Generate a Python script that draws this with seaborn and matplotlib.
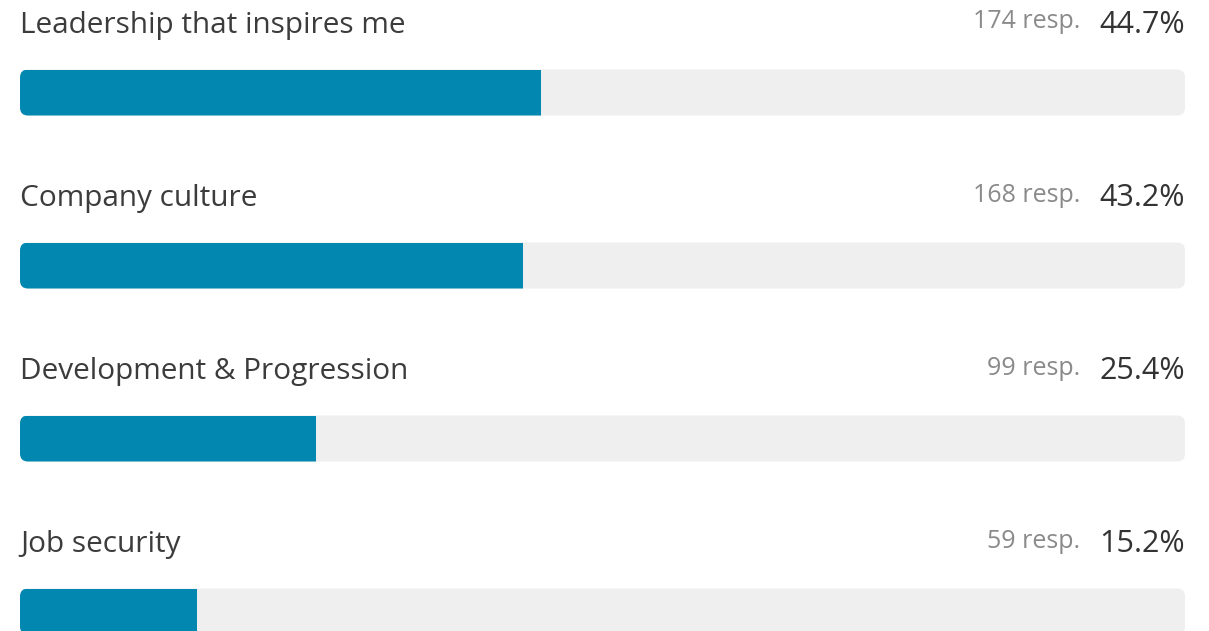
import matplotlib
matplotlib.use("Agg")
import matplotlib.pyplot as plt
import seaborn as sns
import pandas as pd
from matplotlib.patches import FancyBboxPatch

categories = ["Leadership that inspires me", "Company culture",
              "Development & Progression", "Job security"]
responses = [174, 168, 99, 59]
percents = [44.7, 43.2, 25.4, 15.2]
track_total = [100, 100, 100, 100]

df = pd.DataFrame({"category": categories, "resp": responses,
                   "pct": percents, "total": track_total})

sns.set_theme(style="white")
plt.rcParams["font.family"] = ["Open Sans", "DejaVu Sans"]

W, H = 1209, 631
fig = plt.figure(figsize=(W / 100, H / 100), dpi=100)
fig.patch.set_facecolor("white")
ax = fig.add_axes([20 / W, 0, 1165 / W, 1])

spacing_px = 173.0
center0_px = 92.5
bar_px = 46.0
bar_h = bar_px / spacing_px

sns.barplot(data=df, y="category", x="total", color="#efefef",
            width=bar_h, ax=ax, orient="h", saturation=1)
n_track = len(ax.patches)
sns.barplot(data=df, y="category", x="pct", color="#0288b0",
            width=bar_h, ax=ax, orient="h", saturation=1)

ax.set_xlim(0, 100)
ax.set_ylim((H - center0_px) / spacing_px, -center0_px / spacing_px)
ax.axis("off")

# rounded tracks; fills clipped by the tracks (rounded left, square right)
x_per_px = 100 / 1165.0
y_per_px = 1 / spacing_px
r_px = 8
patches = list(ax.patches)
tracks = patches[:n_track]
fills = patches[n_track:]
rounded = []
for p in tracks:
    x0, y0, w, h = p.get_x(), p.get_y(), p.get_width(), p.get_height()
    fb = FancyBboxPatch((x0, y0), w, h,
                        boxstyle=f"round,pad=0,rounding_size={r_px * x_per_px}",
                        mutation_aspect=y_per_px / x_per_px,
                        facecolor="#efefef", edgecolor="none", zorder=1)
    ax.add_patch(fb)
    rounded.append(fb)
    p.set_visible(False)
for p, fb in zip(fills, rounded):
    p.set_zorder(2)
    p.set_edgecolor("none")
    p.set_clip_path(fb)

label_dy = 59.5 / spacing_px
resp_dy = 64.0 / spacing_px
for i, row in df.iterrows():
    ax.text(0, i - label_dy, row["category"], ha="left", va="baseline",
            fontsize=21.4, color="#3c3c3c")
    ax.text(100, i - label_dy, f"{row['pct']:.1f}%", ha="right", va="baseline",
            fontsize=22, color="#333333")
    ax.annotate(f"{row['resp']} resp.", xy=(100, i - resp_dy),
                xytext=(-105, 0), textcoords="offset pixels",
                ha="right", va="baseline", fontsize=18, color="#8a8a8a")

fig.savefig("out.png", dpi=100, facecolor="white")
